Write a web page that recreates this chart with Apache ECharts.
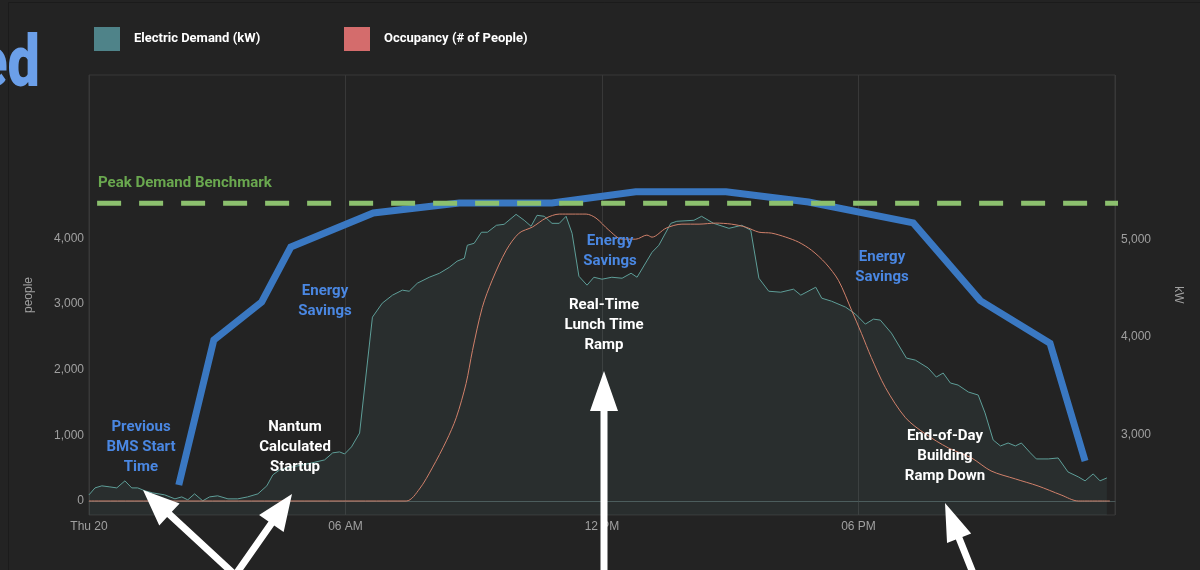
<!DOCTYPE html>
<html>
<head>
<meta charset="utf-8">
<title>Electric Demand vs Occupancy</title>
<script src="https://cdn.jsdelivr.net/npm/echarts@6.0.0/dist/echarts.min.js"></script>
<style>
  html, body { margin: 0; padding: 0; background: #232323; }
  #chart { width: 1200px; height: 570px; }
</style>
</head>
<body>
<div id="chart"></div>
<script>
// ---- Electric demand (kW), hours since midnight ----
const demandHours = [
  0.00, 0.14, 0.30, 0.49, 0.65, 0.84, 1.00, 1.14, 1.31, 1.49, 1.77, 2.01, 2.17, 2.31, 2.47, 2.66,
  2.82, 3.01, 3.25, 3.48, 3.71, 3.95, 4.16, 4.30, 4.46, 4.65, 4.88, 5.21, 5.51, 5.70, 5.86, 5.98,
  6.14, 6.33, 6.63, 6.86, 7.10, 7.33, 7.49, 7.68, 7.96, 8.20, 8.43, 8.61, 8.78, 8.85, 9.01, 9.18,
  9.32, 9.53, 9.71, 9.99, 10.18, 10.34, 10.48, 10.65, 10.83, 11.00, 11.16, 11.30, 11.46, 11.65, 11.81, 12.00,
  12.23, 12.47, 12.68, 12.82, 13.17, 13.33, 13.61, 13.75, 14.15, 14.33, 14.61, 14.97, 15.27, 15.48, 15.67, 15.90,
  16.18, 16.48, 16.65, 17.00, 17.14, 17.37, 17.70, 17.93, 18.16, 18.35, 18.51, 18.77, 19.12, 19.33, 19.63, 19.82,
  19.98, 20.15, 20.33, 20.57, 20.80, 20.96, 21.15, 21.32, 21.50, 21.67, 21.81, 22.02, 22.16, 22.44, 22.67, 22.90,
  23.14, 23.30, 23.49, 23.65, 23.81
];
const demandKw = [
  2388, 2459, 2480, 2469, 2459, 2531, 2459, 2459, 2429, 2408, 2388, 2347, 2367, 2337, 2398, 2327,
  2367, 2378, 2347, 2347, 2367, 2398, 2480, 2592, 2643, 2663, 2684, 2714, 2745, 2817, 2827, 2806,
  2878, 3020, 4204, 4347, 4429, 4480, 4469, 4551, 4612, 4653, 4714, 4776, 4806, 4939, 4959, 5072,
  5072, 5143, 5153, 5255, 5194, 5133, 5245, 5235, 5163, 5163, 5235, 5061, 4622, 4531, 4612, 4592,
  4612, 4602, 4653, 4612, 4867, 4939, 5163, 5184, 5194, 5235, 5163, 5112, 5143, 5092, 4602, 4469,
  4459, 4490, 4429, 4510, 4398, 4367, 4306, 4235, 4133, 4184, 4174, 4041, 3786, 3765, 3684, 3592,
  3633, 3531, 3510, 3439, 3408, 3225, 2949, 2888, 2918, 2888, 2918, 2817, 2755, 2755, 2765, 2622,
  2572, 2531, 2602, 2531, 2561
];

// ---- Occupancy (# of people) ----
const occupancyHours = [
  0.00, 7.42, 7.73, 8.03, 8.36, 8.59, 8.82, 8.97, 9.20, 9.43, 9.76, 10.06, 10.37, 10.69, 11.00, 11.30,
  11.63, 11.86, 12.16, 12.47, 12.79, 13.05, 13.17, 13.50, 13.87, 14.27, 14.66, 15.03, 15.36, 15.67, 15.97, 16.30,
  16.60, 16.90, 17.23, 17.53, 17.84, 18.07, 18.30, 18.63, 19.10, 19.56, 20.10, 20.64, 21.10, 21.67, 22.20, 22.74,
  23.14, 23.88
];
const occupancyPeople = [
  0, 0, 183, 504, 916, 1267, 1787, 2290, 2947, 3359, 3817, 4077, 4169, 4306, 4367, 4367,
  4367, 4306, 4123, 3985, 3985, 4047, 4016, 4153, 4214, 4214, 4230, 4214, 4169, 4092, 4077, 4016,
  3940, 3818, 3619, 3359, 2901, 2550, 2184, 1726, 1267, 1023, 809, 657, 458, 336, 229, 92,
  0, 0
];

// ---- Previous BMS schedule profile (kW) ----
const bmsHours = [2.10, 2.92, 4.04, 4.72, 6.65, 8.66, 10.83, 12.79, 14.90, 16.83, 19.28, 20.85, 22.48, 23.30];
const bmsKw    = [2489, 3971, 4359, 4921, 5269, 5371, 5371, 5486, 5486, 5381, 5167, 4373, 3937, 2734];

// ---- Peak demand benchmark (kW) ----
const benchmarkHours = [0.19, 24.26];
const benchmarkKw = 5368;

// ---- Axis ticks ----
const timeTicks = [0, 6, 12, 18];
const timeTickLabels = ['Thu 20', '06 AM', '12 PM', '06 PM'];
const peopleTicks = [0, 1000, 2000, 3000, 4000];
const kwTicks = [3000, 4000, 5000];

const zip = (xs, ys) => xs.map((x, i) => [x, Array.isArray(ys) ? ys[i] : ys]);
const fmt = v => Number(v).toLocaleString('en-US');

const BLUE_TXT = '#4a87e2';
const WHITE = '#ffffff';
const annFont = { fontFamily: 'Roboto', fontWeight: 'bold', fontSize: 15, lineHeight: 20, align: 'center', verticalAlign: 'middle' };

function note(text, x, y, color) {
  return { type: 'text', x: x, y: y, z: 100, silent: true,
    style: Object.assign({ text: text, fill: color }, annFont) };
}

function arrow(tail, tip, shaftW, headW, headL) {
  const dx = tip[0] - tail[0], dy = tip[1] - tail[1];
  const len = Math.hypot(dx, dy);
  const ux = dx / len, uy = dy / len, nx = -uy, ny = ux;
  const bx = tip[0] - ux * headL, by = tip[1] - uy * headL;
  return { type: 'polygon', z: 100, silent: true,
    shape: { points: [
      [tail[0] + nx * shaftW / 2, tail[1] + ny * shaftW / 2],
      [bx + nx * shaftW / 2, by + ny * shaftW / 2],
      [bx + nx * headW / 2, by + ny * headW / 2],
      tip,
      [bx - nx * headW / 2, by - ny * headW / 2],
      [bx - nx * shaftW / 2, by - ny * shaftW / 2],
      [tail[0] - nx * shaftW / 2, tail[1] - ny * shaftW / 2]
    ] },
    style: { fill: WHITE } };
}

const legendText = { color: '#ffffff', fontFamily: 'Roboto', fontWeight: 'bold', fontSize: 13, padding: [0, 0, 0, 9] };

const chart = echarts.init(document.getElementById('chart'));

chart.setOption({
  backgroundColor: '#232323',
  animation: false,
  grid: { left: 89, right: 85, top: 75, bottom: 55, show: true, borderColor: '#383838', borderWidth: 1 },
  legend: [
    { left: 89, top: 22, icon: 'rect', itemWidth: 26, itemHeight: 24, selectedMode: false,
      data: ['Electric Demand (kW)'], textStyle: legendText },
    { left: 339, top: 22, icon: 'rect', itemWidth: 26, itemHeight: 24, selectedMode: false,
      data: ['Occupancy (# of People)'], textStyle: legendText }
  ],
  xAxis: {
    type: 'value', min: 0, max: 24, interval: 6,
    axisLine: { show: true, lineStyle: { color: '#4a5858' } },
    axisTick: { show: false },
    splitLine: { show: true, lineStyle: { color: '#383838', width: 1 } },
    axisLabel: {
      showMaxLabel: false, color: '#a0a0a0', fontFamily: 'Liberation Sans', fontSize: 12, margin: 6,
      formatter: v => { const i = timeTicks.indexOf(v); return i >= 0 ? timeTickLabels[i] : ''; }
    }
  },
  yAxis: [
    { type: 'value', position: 'left', min: -213, max: 6484,
      name: 'people', nameLocation: 'middle', nameRotate: 90, nameGap: 54,
      nameTextStyle: { color: '#a0a0a0', fontFamily: 'Liberation Sans', fontSize: 12 },
      axisLine: { show: false }, axisTick: { show: false }, splitLine: { show: false },
      axisLabel: { customValues: peopleTicks, color: '#a0a0a0', fontFamily: 'Liberation Sans', fontSize: 12, margin: 5, formatter: fmt } },
    { type: 'value', position: 'right', min: 2182, max: 6679,
      name: 'kW', nameLocation: 'middle', nameRotate: -90, nameGap: 57,
      nameTextStyle: { color: '#a0a0a0', fontFamily: 'Liberation Sans', fontSize: 12 },
      axisLine: { show: false }, axisTick: { show: false }, splitLine: { show: false },
      axisLabel: { customValues: kwTicks, color: '#a0a0a0', fontFamily: 'Liberation Sans', fontSize: 12, margin: 6, formatter: fmt } }
  ],
  series: [
    { name: 'Electric Demand (kW)', type: 'line', yAxisIndex: 1, z: 2,
      data: zip(demandHours, demandKw), showSymbol: false, symbol: 'none',
      itemStyle: { color: '#4f8389' },
      lineStyle: { color: '#5e9e98', width: 1 },
      areaStyle: { color: 'rgba(90,140,140,0.15)', origin: 'start' } },
    { name: 'Occupancy (# of People)', type: 'line', yAxisIndex: 0, z: 3,
      data: zip(occupancyHours, occupancyPeople), showSymbol: false, symbol: 'none', smooth: 0.3,
      itemStyle: { color: '#d46c6c' },
      lineStyle: { color: '#d0806a', width: 1 } },
    { name: 'Previous BMS Profile', type: 'line', yAxisIndex: 1, z: 4,
      data: zip(bmsHours, bmsKw), showSymbol: false, symbol: 'none',
      lineStyle: { color: '#3a78c2', width: 7, cap: 'butt', join: 'miter' } },
    { name: 'Peak Demand Benchmark', type: 'line', yAxisIndex: 1, z: 5, clip: false,
      data: zip(benchmarkHours, benchmarkKw), showSymbol: false, symbol: 'none',
      lineStyle: { color: '#8cc06e', width: 5, type: [24, 18], cap: 'butt' } }
  ],
  graphic: [
    // panel edge on the left and top
    { type: 'polyline', z: 1, silent: true,
      shape: { points: [[8.5, 600], [8.5, 2.5], [1200, 2.5]] },
      style: { stroke: '#1b1b1b', lineWidth: 1, fill: null } },
    { type: 'text', x: 40, y: 68, z: 100, silent: true, scaleX: 0.8,
      style: { text: 'ed', fill: '#6b9fe9', fontFamily: 'Roboto', fontWeight: 900, fontSize: 72, align: 'right', verticalAlign: 'middle' } },
    { type: 'text', x: 98, y: 183, z: 100, silent: true,
      style: { text: 'Peak Demand Benchmark', fill: '#6aa84f', fontFamily: 'Roboto', fontWeight: 'bold', fontSize: 15, align: 'left', verticalAlign: 'middle' } },
    note('Energy\nSavings', 325, 301, BLUE_TXT),
    note('Energy\nSavings', 610, 251, BLUE_TXT),
    note('Energy\nSavings', 882, 267, BLUE_TXT),
    note('Previous\nBMS Start\nTime', 141, 447, BLUE_TXT),
    note('Nantum\nCalculated\nStartup', 295, 447, WHITE),
    note('Real-Time\nLunch Time\nRamp', 604, 325, WHITE),
    note('End-of-Day\nBuilding\nRamp Down', 945, 456, WHITE),
    arrow([234, 574], [143, 490], 7, 30, 36),
    arrow([236, 574], [292, 494], 7, 30, 36),
    arrow([604, 578], [604, 371], 7, 28, 40),
    arrow([975, 578], [945, 503], 7, 26, 38)
  ]
});
</script>
</body>
</html>
